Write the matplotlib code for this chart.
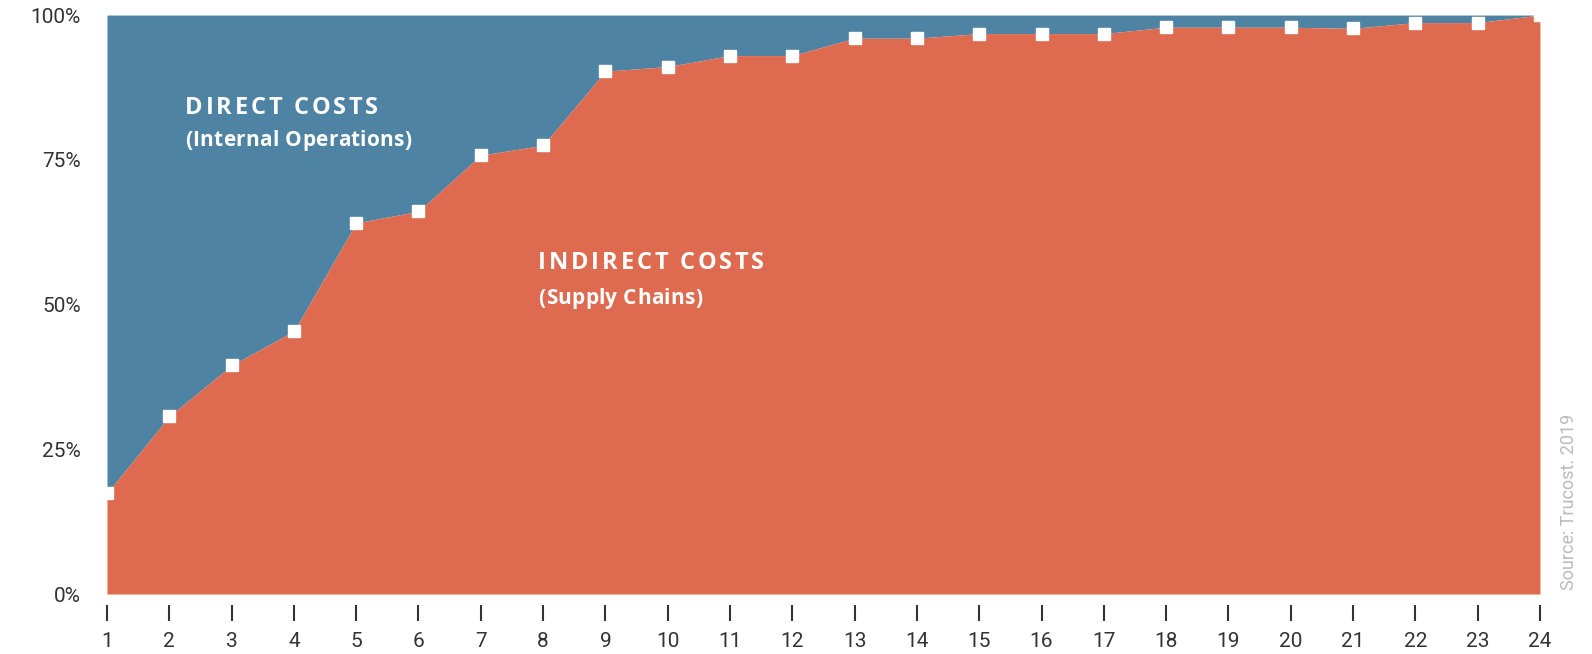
import matplotlib
matplotlib.use('Agg')
import matplotlib.pyplot as plt
from matplotlib.ticker import FuncFormatter
from matplotlib.font_manager import FontProperties

# share of indirect (supply chain) costs per company, %
companies = list(range(1, 25))
indirect_share = [17.4, 30.7, 39.5, 45.4, 64.1, 66.1, 75.8, 77.5, 90.3, 91.1,
                  93.0, 93.0, 96.0, 96.0, 96.8, 96.8, 96.8, 97.9, 97.9, 97.9,
                  97.7, 98.7, 98.7, 100.0]
y_ticks = [0, 25, 50, 75, 100]

BLUE = '#4f83a3'
ORANGE = '#de6b50'
TEXT = '#333333'

plt.rcParams['font.family'] = ['Roboto', 'DejaVu Sans']

fig = plt.figure(figsize=(15.92, 6.54), dpi=100)
ax = fig.add_axes([0.0672, 0.0917, 0.9001, 0.8853])

direct_top = [100] * len(companies)
ax.fill_between(companies, indirect_share, direct_top, color=BLUE, lw=0)
ax.fill_between(companies, 0, indirect_share, color=ORANGE, lw=0)
ax.plot(companies, indirect_share, ls='none', marker='s', ms=8,
        mfc='white', mec='white', clip_on=True, zorder=3)

ax.set_xlim(1, 24)
ax.set_ylim(0, 100)

for side in ['top', 'right', 'left']:
    ax.spines[side].set_visible(False)
ax.spines['bottom'].set_position(('outward', 8))
ax.spines['bottom'].set_visible(False)

ax.set_xticks(companies)
ax.tick_params(axis='x', direction='out', length=11.5, width=1.5, color=TEXT,
               labelsize=15, labelcolor=TEXT, pad=8)
ax.set_yticks(y_ticks)
ax.yaxis.set_major_formatter(FuncFormatter(lambda v, p: f'{v:.0f}%'))
ax.tick_params(axis='y', length=0, labelsize=15, labelcolor=TEXT, pad=19)


def spaced_text(x, y, s, size, tracking):
    """Draw s letter by letter with extra spacing (pixels) between letters."""
    prop = FontProperties(family=['Open Sans', 'DejaVu Sans'], weight='bold',
                          size=size)
    renderer = fig.canvas.get_renderer()
    for i, ch in enumerate(s):
        if ch == ' ':
            continue
        w = renderer.get_text_width_height_descent(s[:i], prop, ismath=False)[0] if i else 0
        ax.annotate(ch, (x, y), xycoords='axes fraction',
                    xytext=(w + i * tracking, 0), textcoords='offset pixels',
                    color='white', fontproperties=prop, va='center', ha='left')


# area labels
spaced_text(0.0545, 0.839, 'DIRECT COSTS', 17, 2.8)
spaced_text(0.0545, 0.783, '(Internal Operations)', 15, 0.3)
spaced_text(0.301, 0.571, 'INDIRECT COSTS', 17, 2.8)
spaced_text(0.301, 0.510, '(Supply Chains)', 15, 0.3)

fig.text(1569 / 1592, 1 - 590 / 654, 'Source: Trucost. 2019', rotation=90,
         color='#bbbbbb', fontsize=13, ha='center', va='bottom')

fig.savefig('out.png', dpi=100)
